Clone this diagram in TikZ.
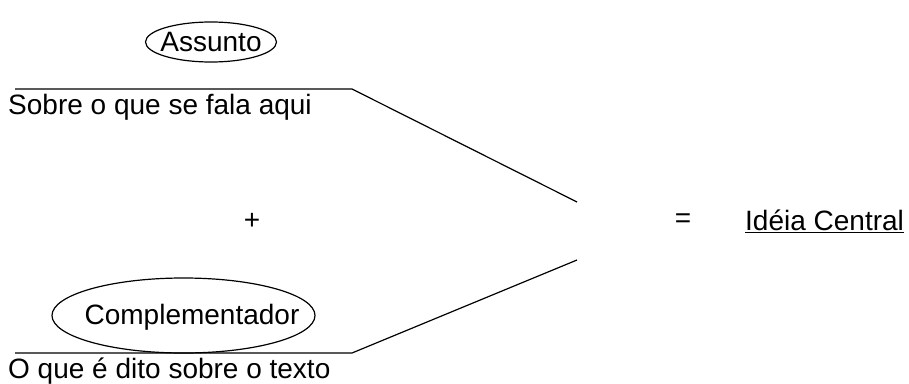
\documentclass[tikz,border=0pt]{standalone}
\usepackage{fontspec}
\setmainfont{Liberation Sans}
\usepackage{xcolor}

\begin{document}
\begin{tikzpicture}[x=1pt,y=-1pt,font=\fontsize{28}{32}\selectfont]
\tikzset{oval/.style={line width=1.2pt},
 txt/.style={anchor=west, inner sep=0}}
\useasboundingbox (0,0) rectangle (909,383);
\node[inner sep=0] (assunto) at (211,42) {Assunto};
\draw[oval] (assunto.center) ellipse [x radius=65.5, y radius=20];
\node[inner sep=0] (compl) at (192,317) {Complementador};
\draw[oval] (183.5,315.5) ellipse [x radius=131.5, y radius=37.5];
\node[txt] (sobre) at (8,107) {Sobre o que se fala aqui};
\node[txt] (dito) at (8,371) {O que é dito sobre o texto};
\node (mais) at (252,221) {+};
\node (igual) at (683,221) {=};
\node[txt] (ideia) at (745,221) {\underline{Idéia Central}};
\coordinate (a1) at (15,89);
\coordinate (a2) at (352,89);
\coordinate (a3) at (577,202);
\coordinate (b1) at (15,353);
\coordinate (b2) at (352,353);
\coordinate (b3) at (577,260);
\draw[line width=1.2pt] (a1) -- (a2) -- (a3);
\draw[line width=1.2pt] (b1) -- (b2) -- (b3);
\end{tikzpicture}
\end{document}
